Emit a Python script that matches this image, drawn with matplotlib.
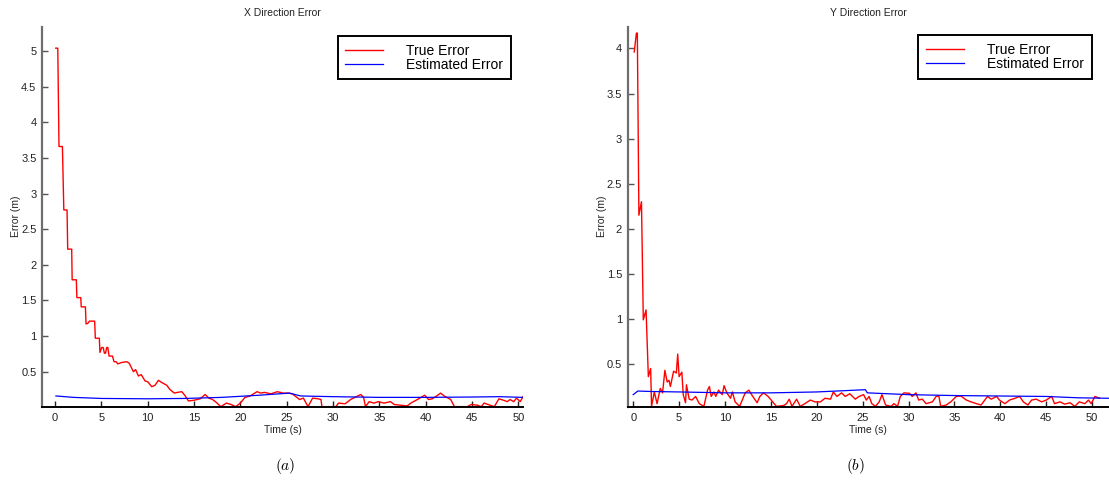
import matplotlib
matplotlib.use("Agg")
import matplotlib.pyplot as plt

plt.rcParams['font.family'] = ['Liberation Sans', 'DejaVu Sans']
plt.rcParams['mathtext.fontset'] = 'cm'

# x direction: true error (step-like decay) and estimated error
t_x_true = [0.08, 0.30, 0.43, 0.80, 0.95, 1.30, 1.37, 1.80, 1.85, 2.30, 2.36, 2.78,
            2.83, 3.28, 3.35, 3.55, 3.71, 4.28, 4.35, 4.78, 4.85, 5.04, 5.20, 5.33,
            5.45, 5.58, 5.70, 5.83, 6.20, 6.37, 6.60, 6.77, 7.20, 7.74, 8.00, 8.20,
            8.46, 8.70, 9.00, 9.30, 9.72, 10.0, 10.44, 10.8, 11.16, 11.5, 12.06, 12.4,
            12.88, 13.2, 13.68, 14.0, 14.4, 15.0, 15.66, 16.2, 16.6, 17.0, 17.4, 17.9,
            18.5, 19.0, 19.5, 20.0, 20.5, 21.06, 21.8, 22.2, 22.6, 23.3, 24.0, 24.6,
            25.2, 25.6, 26.0, 26.4, 26.8, 27.3, 27.8, 28.4, 28.7, 28.8, 30.3, 30.6,
            31.3, 31.9, 32.5, 33.0, 33.3, 33.5, 33.9, 34.4, 34.9, 35.5, 36.2, 36.6,
            37.3, 38.0, 38.4, 39.1, 39.9, 40.3, 40.7, 41.3, 41.6, 42.0, 42.7, 43.1,
            44.5, 44.9, 45.6, 46.0, 46.3, 47.4, 47.9, 48.4, 48.8, 49.1, 49.5, 49.8,
            50.2, 50.5]
e_x_true = [5.04, 5.04, 3.66, 3.66, 2.77, 2.77, 2.22, 2.22, 1.79, 1.79, 1.54, 1.54,
            1.41, 1.41, 1.17, 1.18, 1.21, 1.21, 0.97, 0.97, 0.77, 0.84, 0.84, 0.76,
            0.76, 0.84, 0.84, 0.72, 0.72, 0.64, 0.64, 0.61, 0.63, 0.64, 0.62, 0.57,
            0.50, 0.53, 0.44, 0.46, 0.37, 0.36, 0.29, 0.31, 0.38, 0.35, 0.31, 0.25,
            0.20, 0.21, 0.22, 0.17, 0.09, 0.10, 0.12, 0.18, 0.13, 0.11, 0.07, 0.01,
            0.06, 0.04, 0.01, 0.06, 0.14, 0.16, 0.22, 0.20, 0.21, 0.19, 0.22, 0.20,
            0.20, 0.19, 0.15, 0.11, 0.13, 0.01, 0.13, 0.12, 0.11, 0.01, 0.01, 0.06,
            0.05, 0.11, 0.15, 0.18, 0.14, 0.01, 0.08, 0.06, 0.08, 0.06, 0.08, 0.04,
            0.03, 0.02, 0.06, 0.11, 0.17, 0.11, 0.12, 0.17, 0.20, 0.16, 0.11, 0.01,
            0.01, 0.04, 0.03, 0.01, 0.06, 0.01, 0.12, 0.10, 0.08, 0.11, 0.08, 0.13,
            0.08, 0.15]
t_x_est = [0.1, 2, 5, 10, 14, 18, 22, 25.3, 26.5, 30, 35, 40, 45, 48, 50.5]
e_x_est = [0.16, 0.14, 0.125, 0.12, 0.125, 0.14, 0.17, 0.20, 0.16, 0.15, 0.14, 0.14,
           0.145, 0.15, 0.14]

# y direction: true error and estimated error
t_y_true = [0.11, 0.35, 0.45, 0.62, 0.90, 1.10, 1.40, 1.65, 1.90, 2.0, 2.3, 2.6, 2.95,
            3.2, 3.45, 3.7, 3.9, 4.05, 4.4, 4.7, 4.85, 5.0, 5.3, 5.45, 5.7, 5.8, 6.1,
            6.4, 6.8, 7.2, 7.7, 8.1, 8.3, 8.5, 8.8, 9.0, 9.3, 9.7, 9.9, 10.2, 10.6,
            10.8, 11.1, 11.6, 12.2, 12.6, 12.9, 13.5, 13.8, 14.2, 14.7, 15.2, 15.6,
            16.4, 16.7, 17.0, 17.3, 17.8, 18.2, 18.7, 19.3, 19.8, 20.4, 20.9, 21.5,
            21.8, 22.2, 22.7, 23.1, 23.6, 24.2, 24.6, 25.1, 25.4, 25.7, 26.0, 26.4,
            26.8, 27.1, 27.5, 28.1, 28.4, 28.8, 29.1, 29.5, 30.1, 30.4, 30.8, 31.1,
            31.5, 31.9, 32.6, 33.0, 33.3, 33.5, 34.1, 34.6, 35.2, 35.7, 36.3, 36.8,
            37.4, 37.9, 38.3, 38.6, 39.0, 39.6, 39.9, 40.5, 41.0, 41.6, 42.1, 42.5,
            43.0, 43.4, 43.9, 44.5, 45.0, 45.6, 45.9, 46.5, 47.0, 47.6, 48.1, 48.6,
            49.2, 49.6, 49.9, 50.3, 50.8]
e_y_true = [3.96, 4.17, 4.17, 2.15, 2.30, 0.99, 1.10, 0.36, 0.45, 0.03, 0.19, 0.06, 0.23,
            0.18, 0.43, 0.30, 0.32, 0.25, 0.42, 0.40, 0.61, 0.36, 0.41, 0.16, 0.07, 0.27,
            0.11, 0.10, 0.14, 0.06, 0.03, 0.21, 0.25, 0.14, 0.19, 0.14, 0.21, 0.16, 0.26,
            0.18, 0.12, 0.19, 0.08, 0.03, 0.18, 0.21, 0.16, 0.07, 0.14, 0.18, 0.14, 0.08,
            0.03, 0.04, 0.06, 0.11, 0.03, 0.11, 0.03, 0.06, 0.10, 0.08, 0.08, 0.12, 0.11,
            0.19, 0.14, 0.18, 0.14, 0.17, 0.11, 0.14, 0.16, 0.10, 0.14, 0.06, 0.03, 0.08,
            0.16, 0.045, 0.03, 0.06, 0.03, 0.14, 0.18, 0.175, 0.14, 0.18, 0.10, 0.11,
            0.06, 0.08, 0.14, 0.145, 0.03, 0.045, 0.08, 0.14, 0.145, 0.10, 0.08, 0.06,
            0.045, 0.10, 0.14, 0.11, 0.14, 0.10, 0.06, 0.10, 0.12, 0.14, 0.08, 0.045,
            0.10, 0.11, 0.08, 0.10, 0.14, 0.06, 0.08, 0.055, 0.07, 0.03, 0.08, 0.06,
            0.10, 0.06, 0.14, 0.12]
t_y_est = [0.0, 0.5, 2, 5, 10, 15, 20, 25.3, 25.5, 30, 35, 40, 45, 48.5, 51.8]
e_y_est = [0.16, 0.20, 0.195, 0.19, 0.18, 0.18, 0.19, 0.215, 0.18, 0.16, 0.15, 0.145,
           0.14, 0.125, 0.12]

x_ticks = [0, 5, 10, 15, 20, 25, 30, 35, 40, 45, 50]
x_yticks = [0.5, 1, 1.5, 2, 2.5, 3, 3.5, 4, 4.5, 5]
y_yticks = [0.5, 1, 1.5, 2, 2.5, 3, 3.5, 4]
labels = ['True Error', 'Estimated Error']

fig = plt.figure(figsize=(11.09, 4.87), dpi=100)
ax1 = fig.add_axes([0.0379, 0.165, 0.4337, 0.780])
ax2 = fig.add_axes([0.566, 0.165, 0.4337, 0.780])


def style_axis(ax, title, xlim, ylim, yticks, legend_anchor):
    ax.set_xlim(*xlim)
    ax.set_ylim(*ylim)
    ax.set_xticks(x_ticks)
    ax.set_yticks(yticks)
    ax.set_yticklabels([('%g' % v) for v in yticks])
    for side in ['top', 'right']:
        ax.spines[side].set_visible(False)
    ax.spines['left'].set_color('#6e6e6e')
    ax.spines['left'].set_linewidth(1.6)
    ax.spines['bottom'].set_color('black')
    ax.spines['bottom'].set_linewidth(1.4)
    ax.tick_params(direction='in', length=4, width=1, labelsize=8, colors='#222222')
    ax.tick_params(axis='y', color='#555555', pad=4)
    ax.tick_params(axis='x', pad=4.5)
    ax.set_title(title, fontsize=7.5, pad=8, color='#222222')
    ax.set_xlabel('Time (s)', fontsize=7.5, labelpad=1.5, color='#222222')
    ax.set_ylabel('Error (m)', fontsize=7.5, labelpad=0, color='#222222')
    leg = ax.legend(labels, loc='upper right', bbox_to_anchor=legend_anchor,
                    borderaxespad=0, fontsize=10, handlelength=2.7,
                    handletextpad=1.7, labelspacing=0.02, borderpad=0.55,
                    fancybox=False, framealpha=1)
    leg.get_frame().set_edgecolor('black')
    leg.get_frame().set_linewidth(1.4)


ax1.plot(t_x_true, e_x_true, color='red', lw=1.0)
ax1.plot(t_x_est, e_x_est, color='blue', lw=0.9)
style_axis(ax1, 'X Direction Error', (-1.4, 50.5), (0.01, 5.34), x_yticks, (0.975, 0.976))

ax2.plot(t_y_true, e_y_true, color='red', lw=1.0)
ax2.plot(t_y_est, e_y_est, color='blue', lw=0.9)
style_axis(ax2, 'Y Direction Error', (-0.6, 51.8), (0.027, 4.24), y_yticks, (0.965, 0.978))

fig.text(285 / 1109, 1 - 466 / 487, '$(a)$', fontsize=11, ha='center', va='center')
fig.text(855 / 1109, 1 - 466 / 487, '$(b)$', fontsize=11, ha='center', va='center')

fig.savefig('out.png', dpi=100)
